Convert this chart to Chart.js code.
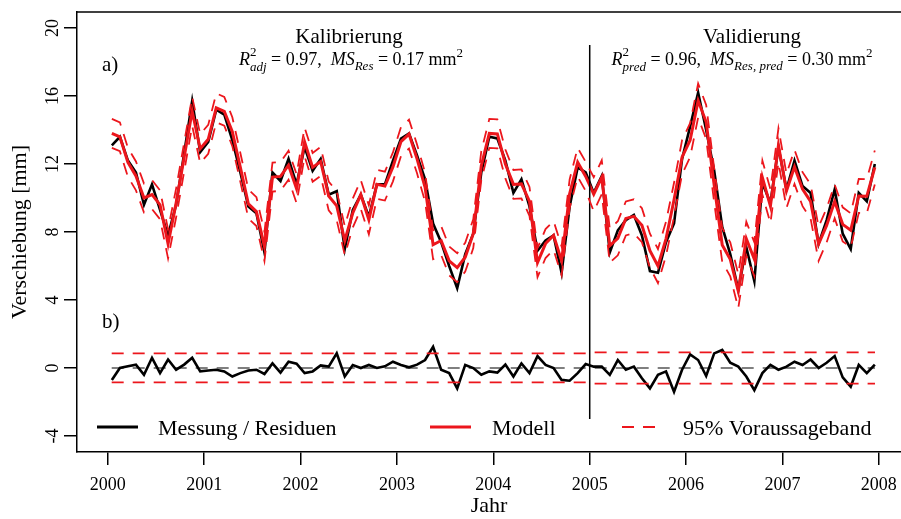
<!DOCTYPE html>
<html><head><meta charset="utf-8">
<script src="https://cdn.jsdelivr.net/npm/chart.js@4.4.0/dist/chart.umd.min.js"></script>
<style>html,body{margin:0;padding:0;background:#fff;overflow:hidden}#wrap{width:901px;height:519px;position:relative}</style>
</head><body><div id="wrap"><canvas id="c" width="901" height="519"></canvas></div>
<script>
// ---- data ----
const startJahr = 2000;
const anzahlMonate = 96;
const messung = [
 13.1,13.6,12.2,11.5,9.6,10.8,9.3,7.8,9.6,12.6,15.7,12.7,
 13.3,15.2,14.9,13.4,11.5,9.5,9.1,6.8,11.5,11.0,12.3,10.8,
 13.0,11.6,12.3,10.2,10.4,7.0,9.3,10.2,8.9,10.8,10.8,12.2,
 13.5,13.8,12.5,11.1,8.5,7.4,6.0,4.7,6.7,7.9,11.5,13.6,
 13.5,12.2,10.3,11.1,9.5,6.9,7.5,7.8,5.6,9.5,11.8,11.5,
 10.3,11.3,6.8,8.1,8.7,9.0,7.8,5.7,5.6,7.4,8.5,12.3,
 14.2,16.2,14.0,11.6,8.3,6.7,4.6,7.1,5.1,10.9,9.7,13.0,
 10.5,12.2,10.7,10.3,7.3,8.7,10.5,7.9,7.0,10.3,9.8,12.0];
const modell = [
 13.8,13.6,12.1,11.3,10.0,10.2,9.6,7.3,9.7,12.4,15.1,12.9,
 13.45,15.3,15.1,13.9,11.8,9.65,9.2,7.15,11.23,11.27,11.93,10.55,
 13.3,11.8,12.15,10.12,9.54,7.5,9.12,10.2,8.72,10.8,10.7,11.83,
 13.32,13.76,12.3,10.63,7.25,7.5,6.3,5.9,6.52,7.9,11.9,13.8,
 13.77,12.0,10.8,10.83,9.8,6.2,7.32,7.8,6.3,10.25,12.1,11.27,
 10.22,11.22,7.2,7.63,8.8,8.92,8.4,6.9,6.0,7.6,9.9,12.4,
 13.4,15.73,14.47,10.74,7.24,6.39,4.52,7.6,6.4,11.2,9.52,13.1,
 10.42,11.83,10.52,9.8,7.3,8.39,9.8,8.45,8.1,10.12,10.1,11.8];
const bandOben = [
 14.65,14.45,12.95,12.15,10.85,11.05,10.45,8.15,10.55,13.25,15.95,13.75,
 14.3,16.15,15.95,14.75,12.65,10.5,10.05,8.0,12.08,12.12,12.78,11.4,
 14.15,12.65,13.0,10.97,10.39,8.35,9.97,11.05,9.57,11.65,11.55,12.68,
 14.17,14.61,13.15,11.48,8.1,8.35,7.15,6.75,7.37,8.75,12.75,14.65,
 14.62,12.85,11.65,11.68,10.65,7.05,8.17,8.65,7.15,11.1,12.95,12.12,
 11.22,12.22,8.2,8.63,9.8,9.92,9.4,7.9,7.0,8.6,10.9,13.4,
 14.4,16.73,15.47,11.74,8.24,7.39,5.52,8.6,7.4,12.2,10.52,14.1,
 11.42,12.83,11.52,10.8,8.3,9.39,10.8,9.45,9.1,11.12,11.1,12.8];
const bandUnten = [
 12.95,12.75,11.25,10.45,9.15,9.35,8.75,6.45,8.85,11.55,14.25,12.05,
 12.6,14.45,14.25,13.05,10.95,8.8,8.35,6.3,10.38,10.42,11.08,9.7,
 12.45,10.95,11.3,9.27,8.69,6.65,8.27,9.35,7.87,9.95,9.85,10.98,
 12.47,12.91,11.45,9.78,6.4,6.65,5.45,5.05,5.67,7.05,11.05,12.95,
 12.92,11.15,9.95,9.98,8.95,5.35,6.47,6.95,5.45,9.4,11.25,10.42,
 9.22,10.22,6.2,6.63,7.8,7.92,7.4,5.9,5.0,6.6,8.9,11.4,
 12.4,14.73,13.47,9.74,6.24,5.39,3.52,6.6,5.4,10.2,8.52,12.1,
 9.42,10.83,9.52,8.8,6.3,7.39,8.8,7.45,7.1,9.12,9.1,10.8];
const residuen = [
 -0.7,0.0,0.1,0.2,-0.4,0.6,-0.3,0.5,-0.1,0.2,0.6,-0.2,
 -0.15,-0.1,-0.2,-0.5,-0.3,-0.15,-0.1,-0.35,0.27,-0.27,0.37,0.25,
 -0.3,-0.2,0.15,0.08,0.86,-0.5,0.18,0.0,0.18,0.0,0.1,0.37,
 0.18,0.04,0.2,0.47,1.25,-0.1,-0.3,-1.2,0.18,0.0,-0.4,-0.2,
 -0.27,0.2,-0.5,0.27,-0.3,0.7,0.18,0.0,-0.7,-0.75,-0.3,0.23,
 0.08,0.08,-0.4,0.47,-0.1,0.08,-0.6,-1.2,-0.4,-0.2,-1.4,-0.1,
 0.8,0.47,-0.47,0.86,1.06,0.31,0.08,-0.5,-1.3,-0.3,0.18,-0.1,
 0.08,0.37,0.18,0.5,0.0,0.31,0.7,-0.55,-1.1,0.18,-0.3,0.2];
const resBandJahr  = [2000.04, 2004.96, 2005.04, 2007.96];
const resBandOben  = [0.86, 0.86, 0.92, 0.92];
const resBandUnten = [-0.85, -0.85, -0.92, -0.92];
const nullJahr = [2000.04, 2007.96];
const nullWert = [0, 0];
const trennJahr = [2005, 2005];
const trennWert = [-3, 19];
const xTicks = [2000, 2001, 2002, 2003, 2004, 2005, 2006, 2007, 2008];
const yTicks = [-4, 0, 4, 8, 12, 16, 20];

// monthly time axis (mid-month, decimal years)
const zeit = [];
for (let i = 0; i < anzahlMonate; i++) zeit.push(startJahr + (i + 0.5) / 12);
const pts = (xs, ys) => xs.map((x, i) => ({x: x, y: ys[i]}));

const SERIF = '"Liberation Serif", "DejaVu Serif", serif';
const ROT = 'rgb(236,22,28)';
const DASH = [12, 9];

function drawRich(ctx, parts, cx, base) {
  const widths = parts.map(p => {
    if (p.stack) return Math.max(...p.stack.map(s => { ctx.font = s.font; return ctx.measureText(s.t).width; }));
    ctx.font = p.font; return ctx.measureText(p.t).width;
  });
  const total = widths.reduce((a, b) => a + b, 0);
  let x = cx - total / 2;
  parts.forEach((p, i) => {
    if (p.stack) p.stack.forEach(s => { ctx.font = s.font; ctx.fillText(s.t, x, base + s.dy); });
    else { ctx.font = p.font; ctx.fillText(p.t, x, base + (p.dy || 0)); }
    x += widths[i];
  });
}

const deko = {
  id: 'deko',
  afterDraw(chart) {
    const ctx = chart.ctx, a = chart.chartArea;
    ctx.save();
    ctx.strokeStyle = '#000'; ctx.lineWidth = 1.5;
    ctx.beginPath(); ctx.moveTo(a.left, a.top); ctx.lineTo(a.right, a.top); ctx.stroke();
    ctx.fillStyle = '#000';
    ctx.textBaseline = 'alphabetic';
    const big = '21px ' + SERIF, mid = '18px ' + SERIF, midI = 'italic 18px ' + SERIF;
    const sm = '13px ' + SERIF, smI = 'italic 13px ' + SERIF;
    ctx.textAlign = 'center';
    ctx.font = big;
    ctx.fillText('Kalibrierung', 349, 43);
    ctx.fillText('Validierung', 752, 43);
    ctx.textAlign = 'left';
    drawRich(ctx, [
      {t: 'R', font: midI},
      {stack: [{t: '2', font: sm, dy: -9}, {t: 'adj', font: smI, dy: 6}]},
      {t: ' = 0.97,  ', font: mid},
      {t: 'MS', font: midI},
      {t: 'Res', font: smI, dy: 5},
      {t: ' = 0.17 mm', font: mid},
      {t: '2', font: sm, dy: -8}
    ], 351, 65);
    drawRich(ctx, [
      {t: 'R', font: midI},
      {stack: [{t: '2', font: sm, dy: -9}, {t: 'pred', font: smI, dy: 6}]},
      {t: ' = 0.96,  ', font: mid},
      {t: 'MS', font: midI},
      {t: 'Res, pred', font: smI, dy: 5},
      {t: ' = 0.30 mm', font: mid},
      {t: '2', font: sm, dy: -8}
    ], 742, 65);
    ctx.font = big;
    ctx.fillText('a)', 102, 71);
    ctx.fillText('b)', 102, 328);
    // legend
    const ly = 427;
    ctx.font = '22px ' + SERIF;
    ctx.lineWidth = 2.8; ctx.strokeStyle = '#000';
    ctx.beginPath(); ctx.moveTo(97, ly); ctx.lineTo(138, ly); ctx.stroke();
    ctx.fillText('Messung / Residuen', 158, 435);
    ctx.strokeStyle = ROT; ctx.lineWidth = 3;
    ctx.beginPath(); ctx.moveTo(430, ly); ctx.lineTo(471, ly); ctx.stroke();
    ctx.fillText('Modell', 492, 435);
    ctx.lineWidth = 2; ctx.setLineDash(DASH);
    ctx.beginPath(); ctx.moveTo(622, ly); ctx.lineTo(656, ly); ctx.stroke();
    ctx.setLineDash([]);
    ctx.fillText('95% Voraussageband', 683, 435);
    ctx.restore();
  }
};

const line = (data, color, width, dash, order) => ({
  data: data, borderColor: color, borderWidth: width, borderDash: dash || [],
  pointRadius: 0, fill: false, tension: 0, order: order
});

new Chart(document.getElementById('c'), {
  type: 'line',
  data: {
    datasets: [
      line(pts(zeit, bandOben), ROT, 1.8, DASH, 1),
      line(pts(zeit, bandUnten), ROT, 1.8, DASH, 1),
      line(pts(zeit, modell), ROT, 3, null, 2),
      line(pts(zeit, messung), '#000', 2.6, null, 3),
      line(pts(resBandJahr, resBandOben), ROT, 1.8, DASH, 1),
      line(pts(resBandJahr, resBandUnten), ROT, 1.8, DASH, 1),
      line(pts(nullJahr, nullWert), '#000', 1.2, DASH, 4),
      line(pts(zeit, residuen), '#000', 2.6, null, 3),
      line(pts(trennJahr, trennWert), '#000', 1.5, null, 1)
    ]
  },
  options: {
    responsive: false, animation: false, devicePixelRatio: 1,
    layout: {padding: {top: 12, left: 0, right: 0, bottom: 0}},
    plugins: {legend: {display: false}, tooltip: {enabled: false}},
    scales: {
      x: {
        type: 'linear', min: 1999.68, max: 2008.23,
        afterBuildTicks: s => { s.ticks = xTicks.map(v => ({value: v})); },
        afterFit: s => { s.height = 67; s.paddingLeft = 0; s.paddingRight = 0; },
        ticks: {padding: 9, maxRotation: 0, autoSkip: false, color: '#000',
                font: {family: SERIF, size: 18}, callback: v => String(v)},
        grid: {drawOnChartArea: false, drawTicks: true, tickLength: 13, color: '#000', lineWidth: 1.5},
        border: {display: true, color: '#000', width: 1.5},
        title: {display: true, text: 'Jahr', color: '#000', font: {family: SERIF, size: 22}, padding: {top: 0, bottom: 0}}
      },
      y: {
        type: 'linear', min: -4.94, max: 20.94,
        afterBuildTicks: s => { s.ticks = yTicks.map(v => ({value: v})); },
        afterFit: s => { s.width = 77; s.paddingTop = 0; s.paddingBottom = 0; },
        ticks: {minRotation: 90, maxRotation: 90, crossAlign: 'center', padding: 2, autoSkip: false,
                color: '#000', font: {family: SERIF, size: 18}, callback: v => String(v)},
        grid: {drawOnChartArea: false, drawTicks: true, tickLength: 13, color: '#000', lineWidth: 1.5},
        border: {display: true, color: '#000', width: 1.5},
        title: {display: true, text: 'Verschiebung [mm]', color: '#000', font: {family: SERIF, size: 22}, padding: {top: 7, bottom: 0}}
      }
    }
  },
  plugins: [deko]
});
</script>
</body></html>
